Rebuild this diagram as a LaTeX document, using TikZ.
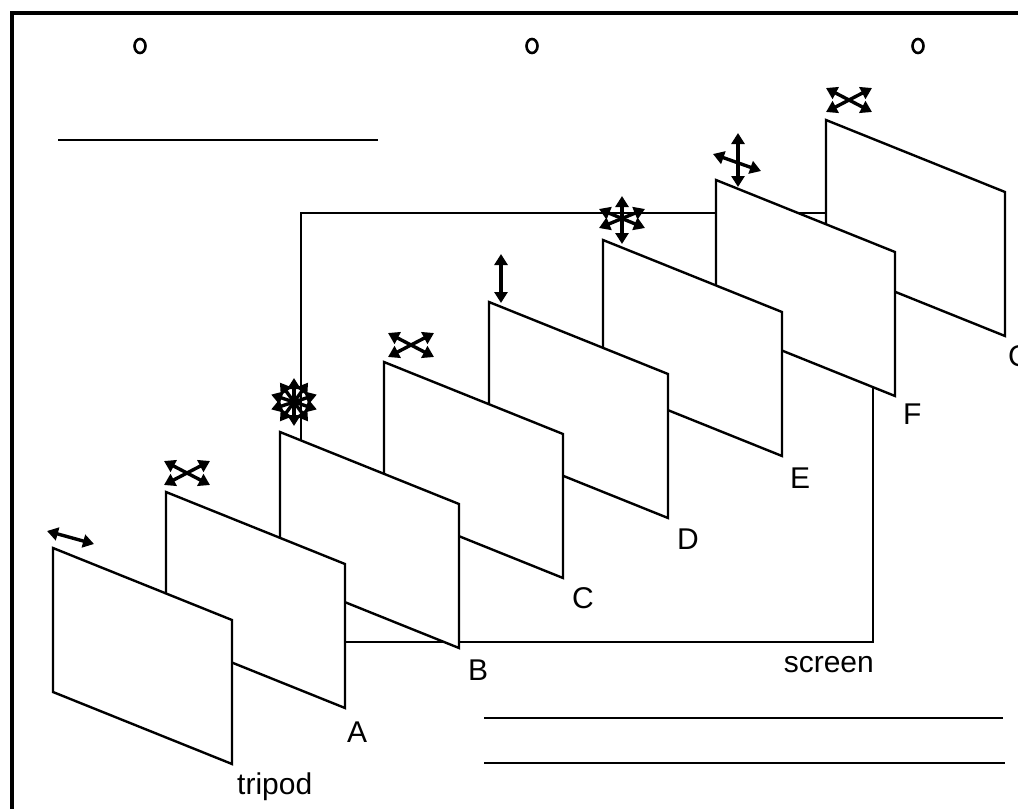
\documentclass[tikz,border=0pt]{standalone}
\usepackage{fontspec}
\setmainfont{Liberation Sans}
\usetikzlibrary{arrows.meta}
\newcommand\mypanel[3]{\draw[panel] (#2,#3) coordinate (#1-tl) -- ++(179,72) coordinate (#1-tr) -- ++(0,144) coordinate (#1-br) -- ++(-179,-72) coordinate (#1-bl) -- cycle;}
\begin{document}
\begin{tikzpicture}[x=1pt,y=-1pt,
  panel/.style={draw=black, fill=white, line width=2.4pt, line join=miter},
  rule/.style={line width=2.4pt},
  lbl/.style={font=\fontsize{30}{32}\selectfont, inner sep=0pt, anchor=base west},
  mv/.style={line width=3.4pt, {Triangle[length=11pt,width=13pt]}-{Triangle[length=11pt,width=13pt]}},
]
\useasboundingbox (0,0) rectangle (1018,809);
\fill[white] (0,0) rectangle (1018,809);
% border
\draw[line width=3.6pt] (12,809) -- (12,13) -- (1018,13);
% holes
\draw[line width=2.6pt] (140,46) ellipse (5.5pt and 7pt);
\draw[line width=2.6pt] (532,46) ellipse (5.5pt and 7pt);
\draw[line width=2.6pt] (918,46) ellipse (5.5pt and 7pt);
% rules
\draw[rule] (58,140) -- (378,140);
\draw[rule] (484,718) -- (1003,718);
\draw[rule] (484,763) -- (1005,763);
% screen
\coordinate (s1) at (301,213);
\coordinate (s2) at (873,642);
\draw[rule] (s1) rectangle (s2);
% panels, back to front
\mypanel{G}{826}{120}
\mypanel{F}{716}{180}
\mypanel{E}{603}{240}
\mypanel{D}{489}{302}
\mypanel{C}{384}{362}
\mypanel{B}{280}{432}
\mypanel{A}{166}{492}
\mypanel{T}{53}{548}
% labels
\node[lbl] (lT) at (237,794) {tripod};
\node[lbl] (lA) at (347,742) {A};
\node[lbl] (lB) at (468,680) {B};
\node[lbl] (lC) at (572,608) {C};
\node[lbl] (lD) at (677,549) {D};
\node[lbl] (lE) at (790,488) {E};
\node[lbl] (lF) at (903,424) {F};
\node[lbl] (lG) at (1008,366) {G};
\node[lbl, anchor=base east] (ls) at (874,672) {screen};
% movement symbols
\draw[mv] (47,531) -- (94,544);
\draw[mv] (164,461) -- (210,485);
\draw[mv] (164,485) -- (210,461);
\foreach \a in {18,54,90,126,162} {
  \draw[mv] (294,402) ++(\a:-24) -- ++(\a:48);
}
\draw[mv] (388,333) -- (434,357);
\draw[mv] (388,357) -- (434,333);
\draw[mv] (501,254) -- (501,303);
\draw[mv] (622,196) -- (622,244);
\draw[mv] (599,209) -- (645,228);
\draw[mv] (599,228) -- (645,209);
\draw[mv] (738,133) -- (738,187);
\draw[mv] (713,154) -- (761,171);
\draw[mv] (826,88) -- (872,112);
\draw[mv] (826,112) -- (872,88);
\end{tikzpicture}
\end{document}
